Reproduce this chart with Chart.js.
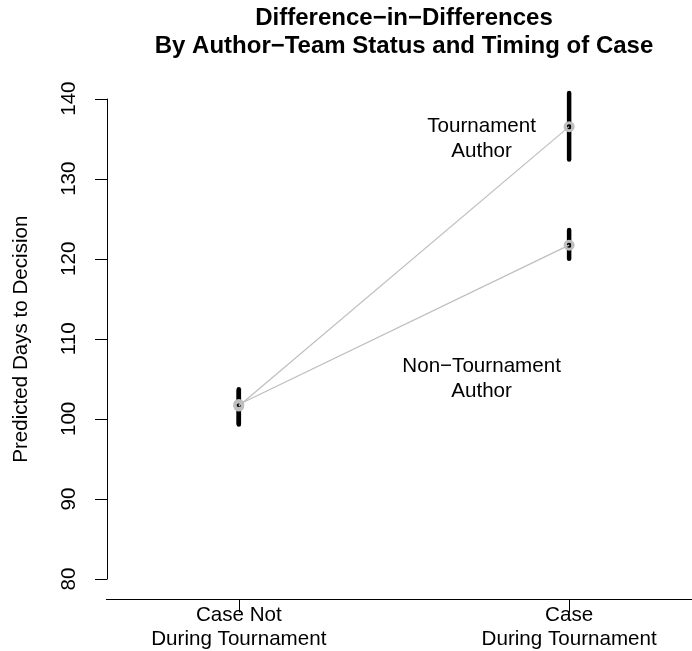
<!DOCTYPE html>
<html>
<head>
<meta charset="utf-8">
<title>Difference-in-Differences</title>
<script src="https://cdn.jsdelivr.net/npm/chart.js@4.4.1/dist/chart.umd.min.js"></script>
<style>
  html, body { margin: 0; padding: 0; background: #fff; }
  #wrap { width: 692px; height: 651px; }
</style>
</head>
<body>
<div id="wrap"><canvas id="didChart" width="692" height="651"></canvas></div>
<script>
// Category positions and their labels (two lines each)
const periodX = [1, 2];
const periodLabels = [['Case Not', 'During Tournament'], ['Case', 'During Tournament']];

// Predicted days to decision, with interval ends
const tournamentFit = [101.6, 136.5];
const tournamentLower = [99.4, 132.4];
const tournamentUpper = [103.7, 140.7];

const nonTournamentFit = [101.8, 121.7];
const nonTournamentLower = [99.3, 120.0];
const nonTournamentUpper = [103.5, 123.6];

// Y axis ticks
const yTicks = [80, 90, 100, 110, 120, 130, 140];

// In-plot group labels (data coordinates)
const groupLabels = [['Tournament', 'Author'], ['Non\u2212Tournament', 'Author']];
const groupLabelX = [1.735, 1.735];
const groupLabelY = [135, 105];

const titleLines = ['Difference\u2212in\u2212Differences', 'By Author\u2212Team Status and Timing of Case'];
const yTitle = 'Predicted Days to Decision';

const FONT = '"Liberation Sans", Arial, Helvetica, sans-serif';
const GREY = '#BEBEBE';

const toPoints = ys => ys.map((y, i) => ({ x: periodX[i], y: y }));

// Black interval bars, drawn below the points
const errorBars = {
    id: 'errorBars',
    beforeDatasetsDraw(chart) {
        const { ctx, scales: { x, y } } = chart;
        const groups = [[tournamentLower, tournamentUpper], [nonTournamentLower, nonTournamentUpper]];
        ctx.save();
        ctx.strokeStyle = '#000';
        ctx.lineWidth = 4.5;
        ctx.lineCap = 'round';
        groups.forEach(([lo, hi]) => {
            periodX.forEach((px, i) => {
                const xp = x.getPixelForValue(px);
                ctx.beginPath();
                ctx.moveTo(xp, y.getPixelForValue(lo[i]));
                ctx.lineTo(xp, y.getPixelForValue(hi[i]));
                ctx.stroke();
            });
        });
        ctx.restore();
    }
};

// Base-R style axes, titles and text
const rStyle = {
    id: 'rStyle',
    afterDraw(chart) {
        const { ctx, chartArea: area, scales: { x, y } } = chart;
        ctx.save();
        ctx.strokeStyle = '#000';
        ctx.fillStyle = '#000';
        ctx.lineWidth = 1;

        // y axis line + ticks
        const axX = area.left;
        const yTop = y.getPixelForValue(yTicks[yTicks.length - 1]);
        const yBot = y.getPixelForValue(yTicks[0]);
        ctx.beginPath();
        ctx.moveTo(axX + 0.5, yTop);
        ctx.lineTo(axX + 0.5, yBot);
        yTicks.forEach(t => {
            const yp = Math.round(y.getPixelForValue(t)) + 0.5;
            ctx.moveTo(axX + 0.5, yp);
            ctx.lineTo(axX - 12, yp);
        });
        ctx.stroke();

        ctx.font = '20.6px ' + FONT;
        ctx.textAlign = 'center';
        ctx.textBaseline = 'middle';
        yTicks.forEach(t => {
            ctx.save();
            ctx.translate(69, y.getPixelForValue(t));
            ctx.rotate(-Math.PI / 2);
            ctx.fillText(String(t), 0, 0);
            ctx.restore();
        });

        // y title
        ctx.save();
        ctx.translate(21, (area.top + area.bottom) / 2);
        ctx.rotate(-Math.PI / 2);
        ctx.fillText(yTitle, 0, 0);
        ctx.restore();

        // x axis line + ticks
        const axY = Math.round(area.bottom) + 0.5;
        ctx.beginPath();
        ctx.moveTo(area.left - 1, axY);
        ctx.lineTo(area.right, axY);
        periodX.forEach(px => {
            const xp = Math.round(x.getPixelForValue(px)) + 0.5;
            ctx.moveTo(xp, axY);
            ctx.lineTo(xp, axY + 13);
        });
        ctx.stroke();

        ctx.textBaseline = 'alphabetic';
        periodX.forEach((px, i) => {
            const xp = x.getPixelForValue(px);
            periodLabels[i].forEach((line, j) => {
                ctx.fillText(line, xp, axY + 21 + j * 24);
            });
        });

        // group labels inside the plot
        ctx.textBaseline = 'middle';
        groupLabels.forEach((lines, i) => {
            const xp = x.getPixelForValue(groupLabelX[i]);
            const yc = y.getPixelForValue(groupLabelY[i]);
            lines.forEach((line, j) => {
                ctx.fillText(line, xp, yc + (j - (lines.length - 1) / 2) * 25);
            });
        });

        // title
        ctx.font = 'bold 24px ' + FONT;
        ctx.textBaseline = 'alphabetic';
        const tx = 404;
        ctx.fillText(titleLines[0], tx, 25);
        ctx.fillText(titleLines[1], tx, 53);

        ctx.restore();
    }
};

const lineStyle = {
    borderColor: GREY,
    borderWidth: 1.2,
    showLine: true,
    pointRadius: 4,
    pointBorderWidth: 3,
    pointBorderColor: GREY,
    pointBackgroundColor: 'rgba(0,0,0,0)'
};

new Chart(document.getElementById('didChart').getContext('2d'), {
    type: 'scatter',
    data: {
        datasets: [
            Object.assign({ label: 'Tournament Author', data: toPoints(tournamentFit) }, lineStyle),
            Object.assign({ label: 'Non-Tournament Author', data: toPoints(nonTournamentFit) }, lineStyle)
        ]
    },
    options: {
        responsive: false,
        animation: false,
        layout: { autoPadding: false, padding: { left: 107, right: 0, top: 79.4, bottom: 52 } },
        scales: {
            x: { type: 'linear', min: 0.601, max: 2.372, display: false },
            y: { type: 'linear', min: 77.5, max: 142.4, display: false }
        },
        plugins: {
            legend: { display: false },
            tooltip: { enabled: false },
            title: { display: false }
        }
    },
    plugins: [errorBars, rStyle]
});
</script>
</body>
</html>
